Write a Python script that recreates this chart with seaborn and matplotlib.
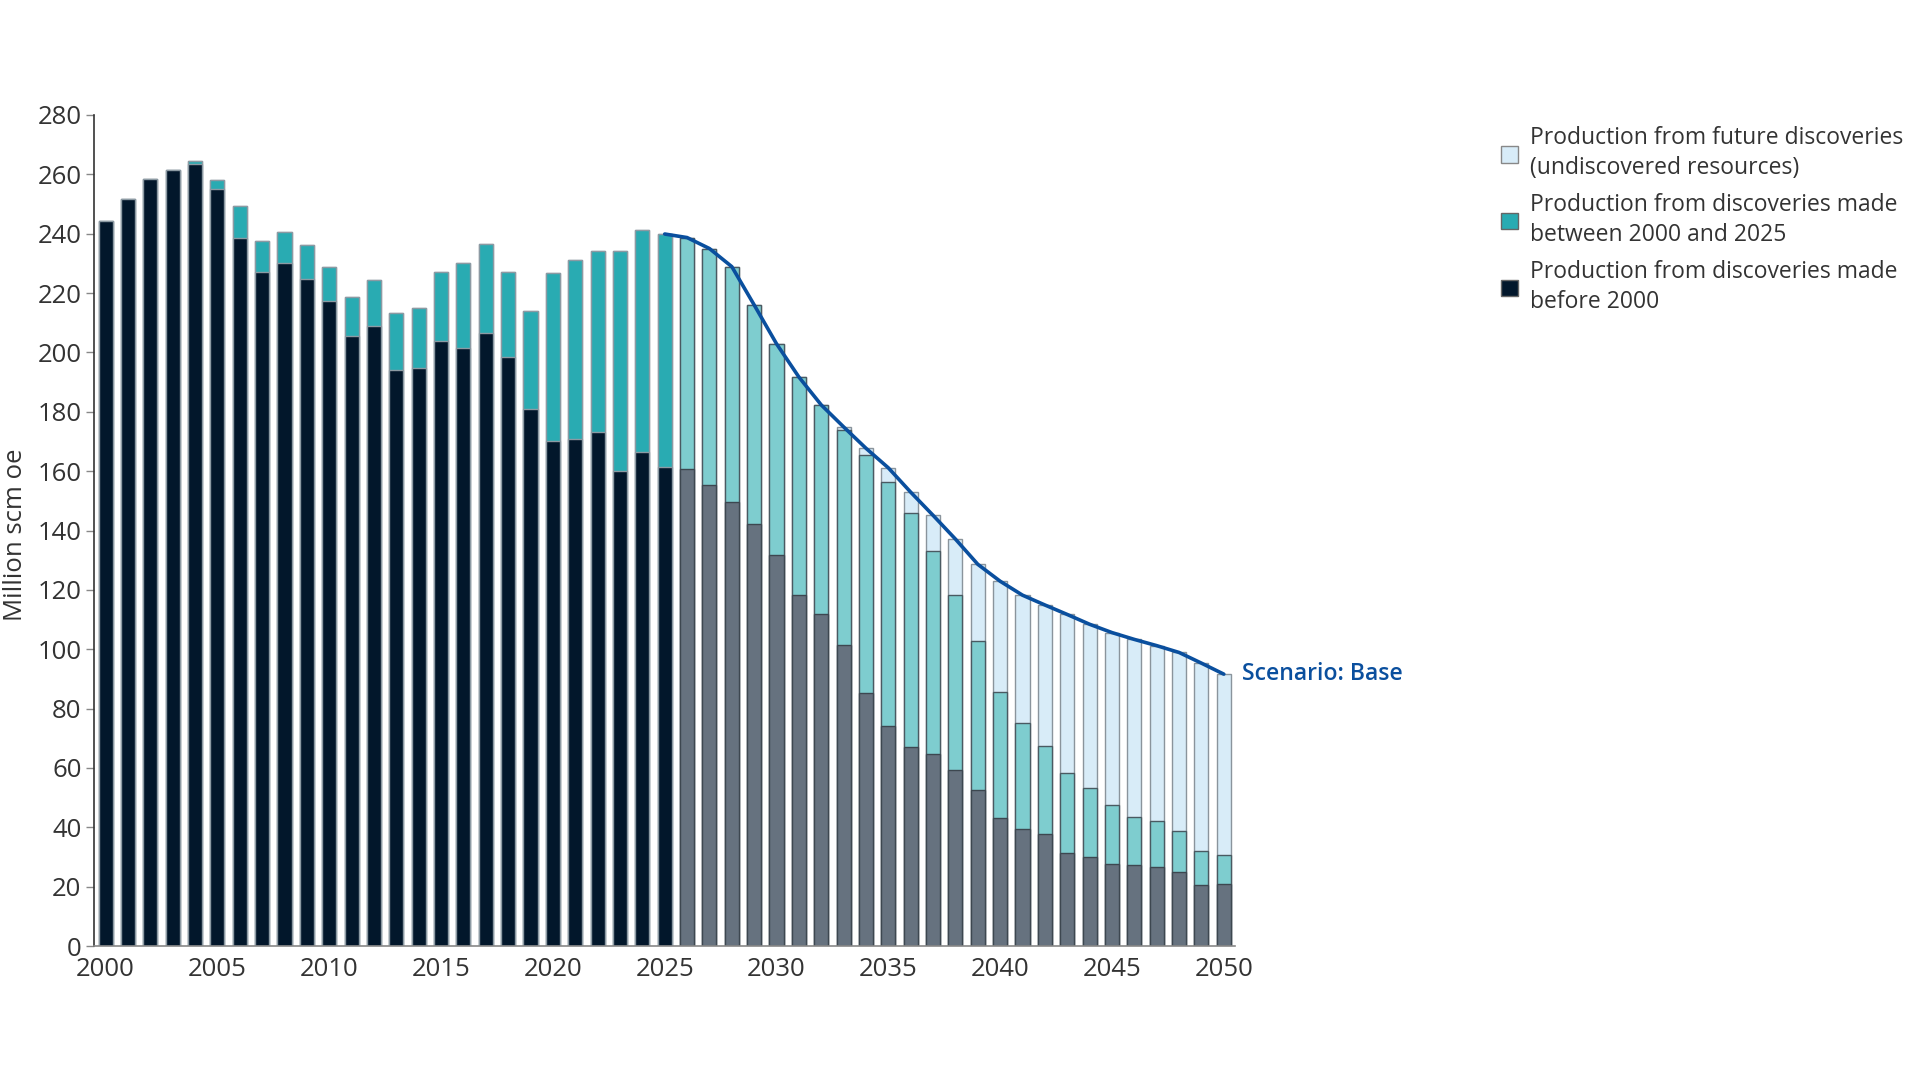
import numpy as np
import pandas as pd
import matplotlib
matplotlib.use("Agg")
import matplotlib.pyplot as plt
from matplotlib.patches import Patch
import seaborn as sns

# ---------------- data ----------------
years = list(range(2000, 2051))
before_2000 = [244.4, 251.7, 258.5, 261.6, 263.6, 255.2, 238.6, 227.0, 230.1, 224.6,
               217.3, 205.7, 208.8, 194.0, 194.8, 203.7, 201.6, 206.6, 198.5, 180.9,
               170.0, 170.8, 173.1, 160.0, 166.3, 161.3,
               160.6, 155.2, 149.6, 142.3, 131.9, 118.3, 111.7, 101.5, 85.3, 74.0,
               67.1, 64.7, 59.4, 52.6, 43.0, 39.4, 37.7, 31.4, 30.1, 27.5,
               27.4, 26.5, 25.0, 20.6, 20.9]
between_2000_2025 = [0, 0, 0, 0, 0.9, 2.9, 10.8, 10.6, 10.6, 11.7,
                     11.6, 12.9, 15.6, 19.2, 20.3, 23.3, 28.6, 30.0, 28.5, 33.1,
                     56.8, 60.4, 61.2, 74.3, 74.8, 78.6,
                     78.1, 79.8, 79.3, 73.7, 71.0, 73.4, 70.6, 72.5, 80.0, 82.5,
                     78.8, 68.5, 58.8, 50.0, 42.6, 35.6, 29.8, 26.8, 23.0, 20.0,
                     16.1, 15.5, 13.9, 11.3, 9.6]
future_discoveries = [0] * 33 + [0.9, 2.4, 4.6, 7.0, 11.9, 18.9, 26.0, 37.3, 43.2,
                                 47.4, 53.5, 55.3, 58.1, 59.8, 59.2, 60.0, 63.4, 61.1]
last_actual_year = 2025
x_tick_years = [2000, 2005, 2010, 2015, 2020, 2025, 2030, 2035, 2040, 2045, 2050]
y_ticks = list(range(0, 281, 20))
legend_labels = ["Production from future discoveries\n(undiscovered resources)",
                 "Production from discoveries made\nbetween 2000 and 2025",
                 "Production from discoveries made\nbefore 2000"]
scenario_label = "Scenario: Base"
y_label = "Million scm oe"

df = pd.DataFrame({"year": years, "before": before_2000,
                   "between": between_2000_2025, "future": future_discoveries})
df["lvl1"] = df["before"]
df["lvl2"] = df["before"] + df["between"]
df["lvl3"] = df["lvl2"] + df["future"]
hist = df[df["year"] <= last_actual_year]
fcst = df[df["year"] > last_actual_year]

# ---------------- style ----------------
sns.set_theme(style="white")
plt.rcParams["font.family"] = ["Open Sans", "DejaVu Sans"]
plt.rcParams["text.color"] = "#333333"

C_DARK = "#02172b"
C_TEAL = "#29abb2"
C_GRAY = "#66727f"
C_LTEAL = "#7ecdcf"
C_FUT = "#d8ecf8"
C_LINE = "#0a4f9e"

fig = plt.figure(figsize=(19.2, 10.8), dpi=100)
ax = fig.add_axes([94 / 1920, 1 - 946 / 1080, (1235 - 94) / 1920, (946 - 115) / 1080])

W = 0.63
layers = [
    (hist, "lvl3", C_FUT, "#9aa4ad"),
    (hist, "lvl2", C_TEAL, "#8c9aa3"),
    (hist, "lvl1", C_DARK, "#8c9aa3"),
    (fcst, "lvl3", C_FUT, "#8a949c"),
    (fcst, "lvl2", C_LTEAL, "#4a5a62"),
    (fcst, "lvl1", C_GRAY, "#3d4750"),
]
for data, col, color, ec in layers:
    sns.barplot(data=data, x="year", y=col, native_scale=True, width=W,
                color=color, edgecolor=ec, linewidth=1.0, ax=ax,
                errorbar=None, saturation=1)

line_df = df[df["year"] >= last_actual_year]
sns.lineplot(data=line_df, x="year", y="lvl3", color=C_LINE, linewidth=2.6, ax=ax)

last = df.iloc[-1]
ax.text(last["year"] + 0.82, last["lvl3"], scenario_label, color=C_LINE,
        fontsize=16.6, fontweight="semibold", va="center", ha="left")

ax.set_xlim(2000 - 0.52, 2050 + 0.5)
ax.set_ylim(0, 280)
ax.set_xticks(x_tick_years)
ax.set_xticklabels([str(y) for y in x_tick_years])
ax.set_yticks(y_ticks)
ax.tick_params(axis="x", length=0, pad=8, labelsize=18.5, labelcolor="#333333")
ax.tick_params(axis="y", length=6, width=1, color="#888888", pad=3,
               labelsize=18.5, labelcolor="#333333", left=True)
ax.set_xlabel("")
ax.set_ylabel(y_label, fontsize=18.5, color="#333333")
ax.yaxis.set_label_coords(-0.058, 0.495)
for s in ["top", "right"]:
    ax.spines[s].set_visible(False)
ax.spines["left"].set_color("#333333")
ax.spines["bottom"].set_color("#888888")
ax.spines["left"].set_linewidth(1.2)
ax.spines["bottom"].set_linewidth(1.2)
ax.grid(False)
ax.set_facecolor("white")

handles = [Patch(facecolor=C_FUT, edgecolor="#888888", linewidth=1),
           Patch(facecolor=C_TEAL, edgecolor="#666666", linewidth=1),
           Patch(facecolor=C_DARK, edgecolor="#666666", linewidth=1)]
leg = fig.legend(handles, legend_labels, loc="upper left",
                 bbox_to_anchor=(1501 / 1920, 1 - 126 / 1080), frameon=False,
                 fontsize=16.5, handlelength=0.75, handleheight=0.75,
                 handletextpad=0.5, labelspacing=0.55, borderaxespad=0,
                 borderpad=0, labelcolor="#333333")
for t in leg.get_texts():
    t.set_linespacing(1.35)

fig.savefig("out.png", dpi=100, facecolor="white")
